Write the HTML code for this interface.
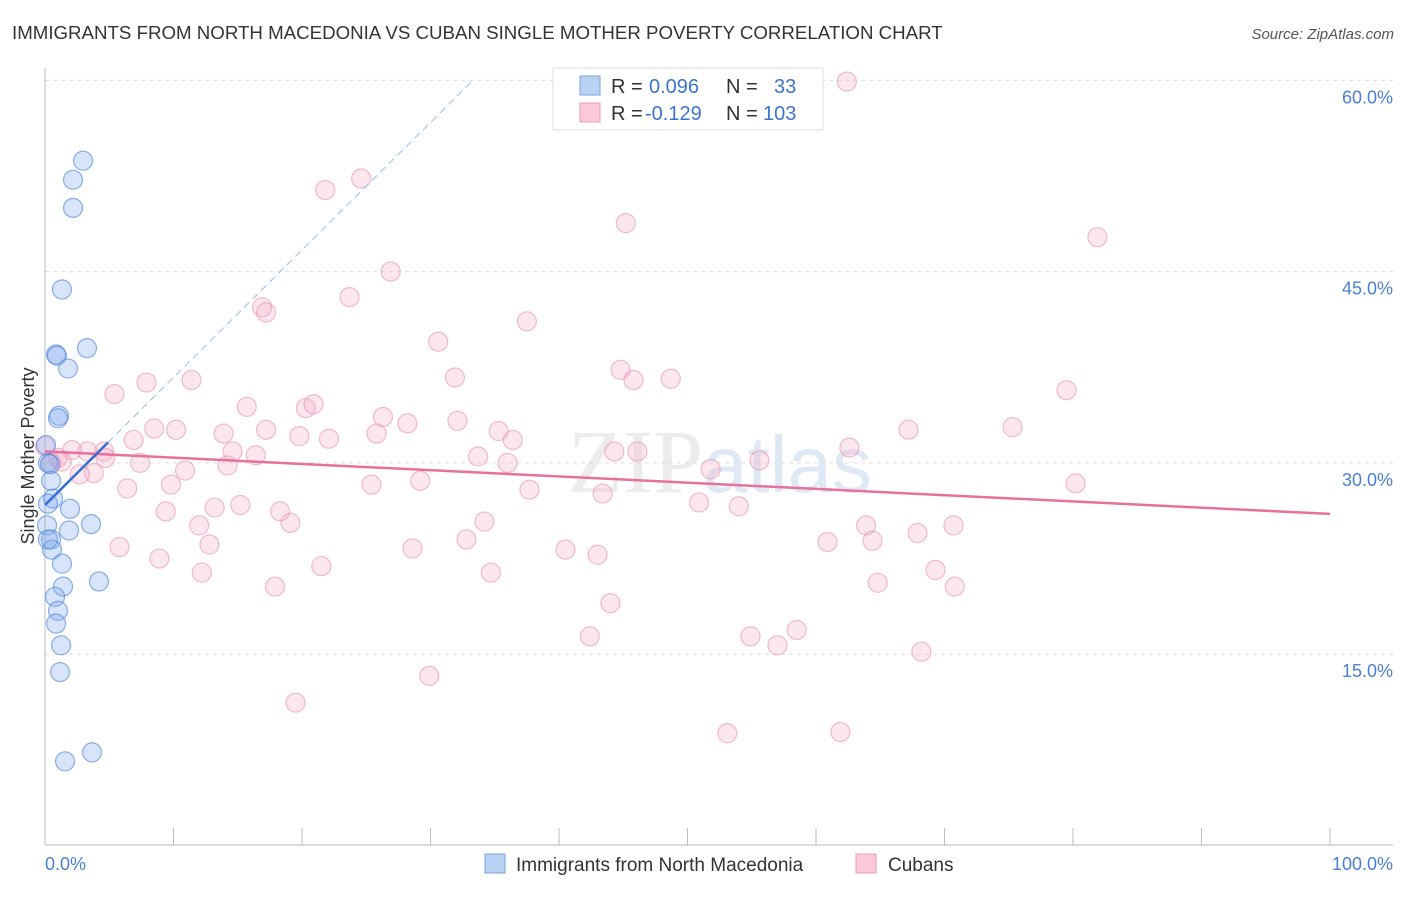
<!DOCTYPE html>
<html><head><meta charset="utf-8"><style>
body{margin:0;background:#fff;font-family:"Liberation Sans",sans-serif}
</style></head><body>
<svg id="c" width="1406" height="892" xmlns="http://www.w3.org/2000/svg">
<text x="12" y="39" font-size="18.7" fill="#333">IMMIGRANTS FROM NORTH MACEDONIA VS CUBAN SINGLE MOTHER POVERTY CORRELATION CHART</text>
<text x="1394" y="39" font-size="15" fill="#555" font-style="italic" text-anchor="end">Source: ZipAtlas.com</text>
<text x="720" y="492" font-size="90" fill="#ececec" text-anchor="middle" font-family="Liberation Serif,serif">ZIP<tspan fill="#dfe8f5" font-family="Liberation Sans,sans-serif" font-size="80">atlas</tspan></text>
<g id="grid"></g><g id="axes"></g><g id="pts"></g><g id="lines"></g>
<text transform="translate(34,456) rotate(-90)" font-size="18" fill="#333" text-anchor="middle">Single Mother Poverty</text>
<text x="45" y="870" font-size="18" fill="#4a7fd4">0.0%</text>
<text x="1393" y="870" font-size="18" fill="#4a7fd4" text-anchor="end">100.0%</text>
<g>
<rect x="553" y="68" width="270" height="62" fill="#fff" stroke="#ddd"/>
<rect x="580" y="76" width="20" height="19" fill="#b9d1f3" stroke="#7aa3e0"/>
<rect x="580" y="103" width="20" height="19" fill="#fbc9d8" stroke="#ee9ab5"/>
<text x="611" y="93" font-size="20" fill="#333">R = <tspan fill="#3b74d0" x="649">0.096</tspan><tspan x="726">N =</tspan><tspan fill="#3b74d0" x="774">33</tspan></text>
<text x="611" y="120" font-size="20" fill="#333">R = <tspan fill="#3b74d0" x="645">-0.129</tspan><tspan x="726">N =</tspan><tspan fill="#3b74d0" x="763">103</tspan></text>
</g>
<g>
<rect x="485" y="854" width="20" height="19" fill="#b9d1f3" stroke="#7aa3e0"/>
<text x="516" y="871" font-size="19" fill="#333">Immigrants from North Macedonia</text>
<rect x="856" y="854" width="20" height="19" fill="#fbc9d8" stroke="#ee9ab5"/>
<text x="888" y="871" font-size="19" fill="#333">Cubans</text>
</g>
</svg>
<script>
const yTicks=[15,30,45,60];
const xTicks=[0,10,20,30,40,50,60,70,80,90,100];
const blueX=[2.96,2.18,2.18,1.32,3.27,0.86,0.93,1.79,1.09,1.01,0.08,0.23,0.47,0.62,0.23,1.95,3.58,0.16,1.87,0.47,0.54,1.32,4.20,1.40,0.78,1.01,0.86,1.25,1.17,3.66,1.56,0.23,0.39];
const blueY=[53.7,52.2,50.0,43.6,39.0,38.5,38.4,37.4,33.7,33.5,31.4,30.0,28.6,27.2,26.8,26.4,25.2,25.1,24.7,24.0,23.2,22.1,20.7,20.3,19.5,18.4,17.4,15.7,13.6,7.3,6.6,24.0,29.9];
const pinkX=[62.4,24.6,21.8,45.2,81.9,26.9,23.7,16.9,17.2,37.5,30.6,31.9,44.8,48.7,45.8,7.9,11.4,79.5,5.4,15.7,20.3,20.9,26.3,32.1,28.2,8.5,10.2,13.9,35.3,6.9,19.8,22.1,25.8,36.4,67.2,75.3,62.6,33.7,44.3,46.1,16.4,14.6,4.6,3.3,2.1,4.7,7.4,1.0,0.5,1.3,14.2,10.9,36.0,55.6,51.8,3.8,2.7,29.2,25.4,6.4,9.8,80.2,37.7,43.4,50.9,15.2,13.2,9.4,18.3,54.0,19.1,34.2,12.0,63.9,70.7,67.9,32.8,60.9,64.4,12.8,5.8,28.6,40.5,43.0,8.9,21.5,69.3,12.2,34.7,64.8,17.9,70.8,44.0,58.5,42.4,54.9,57.0,68.2,29.9,19.5,53.1,61.9,17.2,0.0];
const pinkY=[59.9,52.3,51.4,48.8,47.7,45.0,43.0,42.2,41.8,41.1,39.5,36.7,37.3,36.6,36.5,36.3,36.5,35.7,35.4,34.4,34.3,34.6,33.6,33.3,33.1,32.7,32.6,32.3,32.5,31.8,32.1,31.9,32.3,31.8,32.6,32.8,31.2,30.5,30.9,30.9,30.6,30.9,30.9,30.9,31.0,30.4,30.0,30.4,30.0,30.1,29.8,29.4,30.0,30.2,29.5,29.2,29.1,28.6,28.3,28.0,28.3,28.4,27.9,27.6,26.9,26.7,26.5,26.2,26.2,26.6,25.3,25.4,25.1,25.1,25.1,24.5,24.0,23.8,23.9,23.6,23.4,23.3,23.2,22.8,22.5,21.9,21.6,21.4,21.4,20.6,20.3,20.3,19.0,16.9,16.4,16.4,15.7,15.2,13.3,11.2,8.8,8.9,32.6,31.3];
const pinkTrend=[30.9,26.0];
const blueTrend=[26.7,1.0];
const NS="http://www.w3.org/2000/svg";
const X=v=>45+v*12.85, Y=v=>845.5-v*12.753;
function mk(t,a,p){const e=document.createElementNS(NS,t);for(const k in a)e.setAttribute(k,a[k]);document.getElementById(p).appendChild(e);return e;}
yTicks.forEach(t=>{
 const l=mk('line',{x1:45,x2:1393,y1:Y(t),y2:Y(t),stroke:'#ddd','stroke-dasharray':'4,4'},'grid');
 
 
 const tx=mk('text',{x:1393,y:Y(t)+23,'font-size':18,fill:'#4a7fd4','text-anchor':'end'},'grid');tx.textContent=t.toFixed(1)+'%';
 
 
});
let a=mk('line',{x1:45,x2:1393,y1:845,y2:845,stroke:'#bbb'},'axes');


a=mk('line',{x1:45,x2:45,y1:68,y2:845,stroke:'#bbb'},'axes');


xTicks.forEach(t=>{if(t===0)return;const l=mk('line',{x1:X(t),x2:X(t),y1:828,y2:845,stroke:'#bbb'},'axes');
 
 });
pinkX.forEach((v,i)=>{const c=mk('circle',{cx:X(v),cy:Y(pinkY[i]),r:9.5,fill:'rgba(244,170,198,0.28)',stroke:'rgba(232,135,168,0.55)','stroke-width':1.2},'pts');
 
 });
blueX.forEach((v,i)=>{const c=mk('circle',{cx:X(v),cy:Y(blueY[i]),r:9.5,fill:'rgba(130,172,236,0.32)',stroke:'rgba(80,135,220,0.65)','stroke-width':1.2},'pts');
 
 });
let t=mk('line',{x1:X(0),y1:Y(pinkTrend[0]),x2:X(100),y2:Y(pinkTrend[1]),stroke:'#e8709a','stroke-width':2.5},'lines');


const xe=(60-blueTrend[0])/blueTrend[1];
t=mk('line',{x1:X(4.9),y1:Y(blueTrend[0]+blueTrend[1]*4.9),x2:X(xe),y2:Y(60),stroke:'#9bbbe8','stroke-width':1,'stroke-dasharray':'7,5'},'lines');


t=mk('line',{x1:X(0),y1:Y(blueTrend[0]),x2:X(4.9),y2:Y(blueTrend[0]+blueTrend[1]*4.9),stroke:'#2f6fd6','stroke-width':2.5},'lines');


</script>
</body></html>
